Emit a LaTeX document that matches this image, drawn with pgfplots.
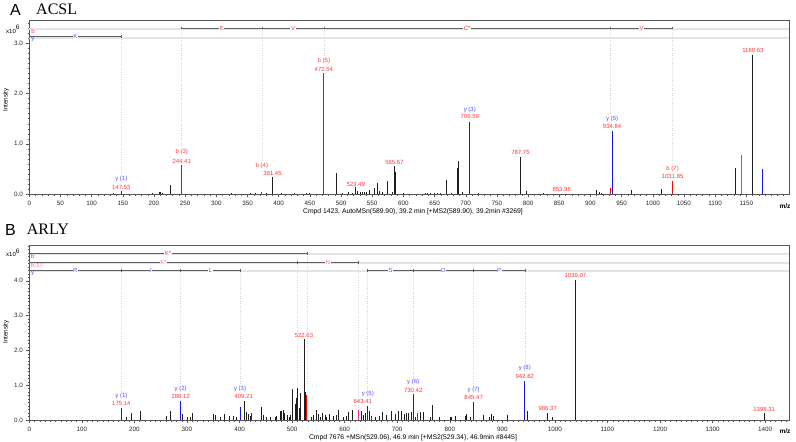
\documentclass[border=0pt]{standalone}
\usepackage{pgfplots}
\pgfplotsset{compat=1.18}
\usepackage{fontspec}
\setmainfont{Liberation Sans}
\newfontfamily\seriffont{Liberation Serif}
\definecolor{pkred}{RGB}{255,0,0}
\definecolor{lblred}{RGB}{255,55,55}
\definecolor{pkblue}{RGB}{20,20,255}
\definecolor{lblblue}{RGB}{80,80,255}
\definecolor{pkpink}{RGB}{255,40,160}
\definecolor{lblpink}{RGB}{255,100,190}
\definecolor{rowdark}{RGB}{95,95,95}
\definecolor{rowlight}{RGB}{228,228,228}
\definecolor{framec}{RGB}{85,85,85}
\definecolor{pkblack}{RGB}{30,30,30}
\pgfplotsset{
  msaxis/.style={
    scale only axis, width=760pt, xmin=0, ymin=0,
    clip=false,
    axis line style={draw=framec, line width=0.7pt},
    tick align=outside, tick pos=left,
    major tick length=3pt, minor tick length=1.8pt,
    every tick/.style={draw=framec, line width=0.4pt},
    tick label style={font=\fontsize{6.3}{7}\selectfont, text=black!85},
    xticklabel style={yshift=-0.8pt},
    /pgf/number format/assume math mode=true,
    xticklabel style={/pgf/number format/1000 sep={}},
    yticklabel style={/pgf/number format/.cd, fixed, fixed zerofill, precision=1},
  },
  pk/.style={ycomb, no markers, line width=0.9pt, draw=#1},
  rowlt/.style={draw=rowlight, line width=1.8pt, no markers},
  rowdk/.style={draw=rowdark, line width=0.6pt, mark=|, mark size=1.3pt, mark options={line width=0.5pt}},
  dline/.style={draw=black!17, dotted, line width=0.5pt, no markers},
}
\tikzset{
  seq/.style={font=\fontsize{6}{7}\selectfont, fill=white, inner sep=0.6pt},
  lbl/.style={font=\fontsize{6}{7}\selectfont, inner sep=0pt},
}
\begin{document}
\begin{tikzpicture}[x=1pt,y=1pt]
\useasboundingbox (0,0) rectangle (796,-442);
% ---------------- Panel A ----------------
\begin{axis}[msaxis, at={(29.3pt,-194pt)}, anchor=south west,
  height=174pt, xmax=1219, ymax=3.466,
  xtick={0,50,...,1150}, minor xtick={0,10,...,1210},
  ytick={0,1,2,3}, minor ytick={0,0.1,...,3.45}]
\addplot[rowlt] coordinates {(0,3.29) (1219,3.29)};
\addplot[rowlt] coordinates {(0,3.115) (1219,3.115)};
\addplot[dline] coordinates {(147.53,3.133) (147.53,0.38)};
\addplot[dline] coordinates {(244.41,3.307) (244.41,0.92)};
\addplot[dline] coordinates {(373.5,3.307) (373.5,0.64)};
\addplot[dline] coordinates {(472.54,3.307) (472.54,2.73)};
\addplot[dline] coordinates {(932,3.307) (932,1.58)};
\addplot[dline] coordinates {(1031.85,3.307) (1031.85,0.58)};
\addplot[rowdk] coordinates {(244.41,3.307) (373.5,3.307) (472.54,3.307) (932,3.307) (1031.85,3.307)};
\addplot[rowdk] coordinates {(0,3.133) (147.53,3.133)};
\node[seq, text=lblred] at (axis cs:308.9,3.307) {E};
\node[seq, text=lblred] at (axis cs:423,3.307) {V};
\node[seq, text=lblred] at (axis cs:702.3,3.307) {C*};
\node[seq, text=lblred] at (axis cs:982,3.307) {V};
\node[seq, text=lblblue] at (axis cs:73.8,3.133) {K};
\node[lbl, text=lblred, anchor=west] at (axis cs:3,3.247) {b};
\node[lbl, text=lblblue, anchor=west] at (axis cs:3,3.068) {y};
\addplot[pk=pkblack] coordinates {(135,0.02) (198,0.02) (208,0.03) (211,0.03) (214,0.025) (225.7,0.17)
 (325,0.02) (355,0.015) (362,0.02) (380,0.02) (390.5,0.34) (405,0.02) (425,0.02) (445,0.02) (450,0.015)
 (492,0.41) (503,0.02) (512,0.03) (518,0.02) (523.49,0.13) (527,0.06) (531,0.03) (535,0.03) (538,0.03)
 (541,0.04) (545.5,0.08) (553,0.11) (558,0.21) (562,0.05) (566,0.04) (575,0.26) (582,0.03) (585.67,0.55)
 (588,0.43) (600,0.02) (635,0.02) (639,0.02) (643,0.02) (650,0.02) (655,0.02) (659,0.02) (669.7,0.28)
 (677,0.02) (686.7,0.52) (688.3,0.65) (694,0.03) (720,0.02) (787.75,0.73) (797,0.06) (825,0.02)
 (853.96,0.01) (910,0.08) (915,0.03) (918,0.02) (966.5,0.08) (1013.5,0.09) (1133,0.52) (1160.63,2.77)};
\addplot[pk=pkred] coordinates {(244.41,0.57) (373,0.04) (472.54,2.41) (931.5,0.11) (1031.85,0.26)};
\addplot[pk=pkblue] coordinates {(147.53,0.06) (706.59,1.44) (934.84,1.26) (1176.6,0.49)};
\addplot[pk=pkpink] coordinates {(1142,0.78)};
\node[lbl, text=lblblue] at (axis cs:147.53,0.299) {y (1)};
\node[lbl, text=lblred] at (axis cs:147.53,0.139) {147.53};
\node[lbl, text=lblred] at (axis cs:244.41,0.837) {b (3)};
\node[lbl, text=lblred] at (axis cs:244.41,0.657) {244.41};
\node[lbl, text=lblred] at (axis cs:373,0.558) {b (4)};
\node[lbl, text=lblred] at (axis cs:390,0.418) {391.45};
\node[lbl, text=lblred] at (axis cs:472.54,2.649) {b (5)};
\node[lbl, text=lblred] at (axis cs:472.54,2.490) {472.54};
\node[lbl, text=lblred] at (axis cs:523.49,0.199) {523.49};
\node[lbl, text=lblred] at (axis cs:585.67,0.62) {585.67};
\node[lbl, text=lblblue] at (axis cs:706.59,1.673) {y (3)};
\node[lbl, text=lblred] at (axis cs:706.59,1.540) {706.59};
\node[lbl, text=lblred] at (axis cs:787.75,0.823) {787.75};
\node[lbl, text=lblred] at (axis cs:853.96,0.094) {853.96};
\node[lbl, text=lblblue] at (axis cs:934.84,1.488) {y (5)};
\node[lbl, text=lblred] at (axis cs:934.84,1.341) {934.84};
\node[lbl, text=lblred] at (axis cs:1031.85,0.498) {b (7)};
\node[lbl, text=lblred] at (axis cs:1031.85,0.345) {1031.85};
\node[lbl, text=lblred] at (axis cs:1160.63,2.855) {1160.63};
\end{axis}
% ---------------- Panel B ----------------
\begin{axis}[msaxis, at={(29.3pt,-420pt)}, anchor=south west,
  height=174.3pt, xmax=1446, ymax=5.009,
  xtick={0,100,...,1400}, minor xtick={0,10,...,1440},
  ytick={0,1,2,3,4}, minor ytick={0,0.1,...,5}]
\addplot[rowlt] coordinates {(0,4.775) (1446,4.775)};
\addplot[rowlt] coordinates {(0,4.517) (1446,4.517)};
\addplot[rowlt] coordinates {(0,4.275) (1446,4.275)};
\addplot[dline] coordinates {(175.14,4.29) (175.14,0.81)};
\addplot[dline] coordinates {(288.12,4.29) (288.12,1.0)};
\addplot[dline] coordinates {(401.5,4.29) (401.5,1.0)};
\addplot[dline] coordinates {(510.7,4.532) (510.7,1.0)};
\addplot[dline] coordinates {(528,4.79) (528,1.0)};
\addplot[dline] coordinates {(625,4.532) (625,0.3)};
\addplot[dline] coordinates {(643.41,4.29) (643.41,0.86)};
\addplot[dline] coordinates {(730.42,4.29) (730.42,1.2)};
\addplot[dline] coordinates {(845.47,4.29) (845.47,0.96)};
\addplot[dline] coordinates {(942.82,4.29) (942.82,1.58)};
\addplot[rowdk] coordinates {(0,4.79) (528,4.79)};
\addplot[rowdk] coordinates {(0,4.532) (510.7,4.532) (625,4.532)};
\addplot[rowdk] coordinates {(0,4.29) (175.14,4.29) (288.12,4.29) (401.5,4.29)};
\addplot[rowdk] coordinates {(643.41,4.29) (730.42,4.29) (845.47,4.29) (942.82,4.29)};
\node[seq, text=lblred] at (axis cs:264,4.79) {K*};
\node[seq, text=lblpink] at (axis cs:255.4,4.532) {K*};
\node[seq, text=lblpink] at (axis cs:567.9,4.532) {N};
\node[seq, text=lblblue] at (axis cs:87.6,4.29) {R};
\node[seq, text=lblblue] at (axis cs:231.6,4.29) {I};
\node[seq, text=lblblue] at (axis cs:344.8,4.29) {L};
\node[seq, text=lblblue] at (axis cs:686.9,4.29) {S};
\node[seq, text=lblblue] at (axis cs:787.9,4.29) {D};
\node[seq, text=lblblue] at (axis cs:894.1,4.29) {P};
\node[lbl, text=lblred, anchor=west] at (axis cs:3,4.693) {b};
\node[lbl, text=lblpink, anchor=west] at (axis cs:3,4.454) {b-17};
\node[lbl, text=lblblue, anchor=west] at (axis cs:3,4.195) {y};
\addplot[pk=pkblack, line width=0.8pt] coordinates {(184,0.10) (194.8,0.21) (210.7,0.26) (261.5,0.11) (269,0.26)
 (292,0.17) (300.7,0.10) (305.8,0.10) (311,0.19) (350,0.16) (355,0.15) (363,0.08) (370.5,0.18) (380.6,0.12)
 (388,0.12) (394.7,0.08) (409.2,0.55) (413.7,0.22) (416.8,0.17) (420,0.12) (442,0.36) (445,0.15) (451.7,0.10)
 (458,0.08) (467.5,0.10) (469.5,0.12) (477,0.25) (480,0.25) (483,0.29) (486,0.20) (491,0.13) (494.7,0.10)
 (497.4,0.14) (501,0.89) (505.6,0.45) (507.5,0.64) (510.7,0.93) (513.8,0.35) (516.4,0.77) (522.63,2.32)
 (524.6,0.81) (537,0.10) (540,0.14) (545.5,0.29) (550,0.17) (554.4,0.10) (558,0.20) (562.6,0.14) (566,0.10)
 (571,0.16) (578.5,0.12) (583.6,0.14) (588,0.29) (597.5,0.10) (602.7,0.12) (607,0.22) (615.4,0.29)
 (632.5,0.25) (635.6,0.15) (638.8,0.20) (648,0.27) (651.5,0.12) (658,0.10) (666,0.12) (672.5,0.24)
 (680,0.15) (689.6,0.25) (696,0.18) (702,0.25) (708.7,0.25) (713,0.16) (716.8,0.20) (720.6,0.19)
 (727.7,0.24) (734,0.10) (744.8,0.22) (749.8,0.24) (762.5,0.10) (767.6,0.42) (780,0.10) (800.6,0.10)
 (803.8,0.10) (810,0.12) (829,0.12) (832,0.17) (840,0.10) (864,0.15) (875,0.10) (880,0.17) (883,0.12)
 (909.6,0.15) (948,0.27) (986.37,0.21) (995,0.08) (1039.07,4.02) (1398.31,0.19)};
\addplot[pk=pkred] coordinates {(526.5,0.72) (651,0.10) (738.4,0.20)};
\addplot[pk=pkblue] coordinates {(175.14,0.34) (288.12,0.55) (401.5,0.36) (422,0.20) (642.5,0.40)
 (730.42,0.75) (845.47,0.52) (942.82,1.13)};
\addplot[pk=pkpink] coordinates {(625.5,0.29)};
\node[lbl, text=lblblue] at (axis cs:175.14,0.690) {y (1)};
\node[lbl, text=lblred] at (axis cs:175.14,0.480) {175.14};
\node[lbl, text=lblblue] at (axis cs:288.12,0.891) {y (2)};
\node[lbl, text=lblred] at (axis cs:288.12,0.681) {288.12};
\node[lbl, text=lblblue] at (axis cs:401,0.891) {y (3)};
\node[lbl, text=lblred] at (axis cs:408,0.681) {409.21};
\node[lbl, text=lblred, fill=white, inner sep=0.5pt] at (axis cs:522.63,2.443) {522.63};
\node[lbl, text=lblblue] at (axis cs:644,0.747) {y (5)};
\node[lbl, text=lblred] at (axis cs:634.5,0.546) {643.41};
\node[lbl, text=lblblue] at (axis cs:730.42,1.083) {y (6)};
\node[lbl, text=lblred] at (axis cs:730.42,0.853) {730.42};
\node[lbl, text=lblblue] at (axis cs:845.47,0.853) {y (7)};
\node[lbl, text=lblred] at (axis cs:845.47,0.641) {845.47};
\node[lbl, text=lblblue] at (axis cs:942.82,1.486) {y (8)};
\node[lbl, text=lblred] at (axis cs:942.82,1.256) {942.82};
\node[lbl, text=lblred] at (axis cs:986.37,0.325) {986.37};
\node[lbl, text=lblred] at (axis cs:1398.31,0.296) {1398.31};
\node[lbl, text=lblred] at (axis cs:1039.07,4.147) {1039.07};
\end{axis}
% ---------------- outer texts ----------------
\node[anchor=base west, inner sep=0, font=\fontsize{16}{18}\selectfont] at (10,-15) {A};
\node[anchor=base west, inner sep=0, font=\seriffont\fontsize{16}{18}\selectfont] at (36,-14.5) {ACSL};
\node[anchor=base west, inner sep=0, font=\fontsize{16}{18}\selectfont] at (5,-235) {B};
\node[anchor=base west, inner sep=0, font=\seriffont\fontsize{16}{18}\selectfont] at (26.7,-234.5) {ARLY};
\node[font=\fontsize{6.8}{8}\selectfont, inner sep=0] at (413,-212) {Cmpd 1423, AutoMSn(589.90), 39.2 min [+MS2(589.90), 39.2min \#3269]};
\node[font=\fontsize{6.8}{8}\selectfont, inner sep=0] at (413,-437.3) {Cmpd 7676 +MSn(529.06), 46.9 min [+MS2(529.34), 46.9min \#8445]};
\node[font=\bfseries\fontsize{6.5}{8}\selectfont, inner sep=0] at (785,-206) {m/z};
\node[font=\bfseries\fontsize{6.5}{8}\selectfont, inner sep=0] at (785,-431.5) {m/z};
\node[rotate=90, font=\fontsize{6.3}{7}\selectfont, inner sep=0] at (6,-100) {Intensity};
\node[rotate=90, font=\fontsize{6.3}{7}\selectfont, inner sep=0] at (6,-332) {Intensity};
\node[font=\fontsize{6}{7}\selectfont, anchor=base west, inner sep=0] at (6,-33) {x10\raisebox{3.5pt}{\fontsize{6.5}{7}\selectfont 6}};
\node[font=\fontsize{6}{7}\selectfont, anchor=base west, inner sep=0] at (6,-256.5) {x10\raisebox{3.5pt}{\fontsize{6.5}{7}\selectfont 6}};
\end{tikzpicture}
\end{document}
